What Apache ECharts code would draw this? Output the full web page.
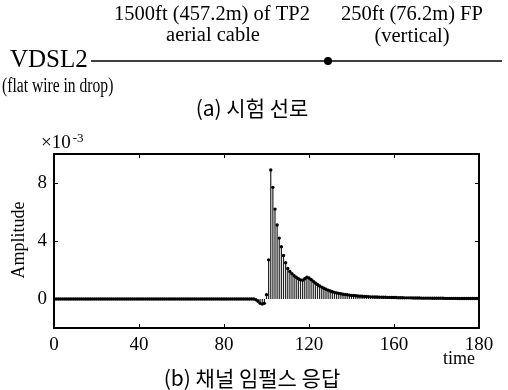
<!DOCTYPE html>
<html>
<head>
<meta charset="utf-8">
<script src="https://cdn.jsdelivr.net/npm/echarts@6/dist/echarts.min.js"></script>
<style>
html,body{margin:0;padding:0;background:#fff;}
#chart{width:508px;height:390px;}
</style>
</head>
<body>
<div id="chart"></div>
<script>
// Amplitude (x10^-3) of the channel impulse response, one value per time sample 0..200
var amplitude = [
  0,0,0,0,0,0,0,0,0,0,
  0,0,0,0,0,0,0,0,0,0,
  0,0,0,0,0,0,0,0,0,0,
  0,0,0,0,0,0,0,0,0,0,
  0,0,0,0,0,0,0,0,0,0,
  0,0,0,0,0,0,0,0,0,0,
  0,0,0,0,0,0,0,0,0,0,
  0,0,0,0,0,0,0,0,0,0,
  0,0,0,0,0,0,0,0,0,0,
  0,0,0,0,0,-0.05,-0.15,-0.3,-0.35,-0.3,
  0.3,2.7,8.9,7.7,6.2,5.1,4.2,3.6,3.0,2.5,
  2.1,1.9,1.75,1.6,1.5,1.4,1.32,1.3,1.4,1.5,
  1.45,1.35,1.22,1.1,1.0,0.9,0.82,0.74,0.67,0.61,
  0.55,0.5,0.46,0.42,0.39,0.36,0.33,0.31,0.29,0.27,
  0.25,0.24,0.22,0.21,0.2,0.19,0.18,0.17,0.16,0.15,
  0.15,0.14,0.14,0.13,0.13,0.12,0.12,0.11,0.11,0.1,
  0.1,0.1,0.09,0.09,0.09,0.08,0.08,0.08,0.08,0.07,
  0.07,0.07,0.07,0.06,0.06,0.06,0.06,0.06,0.05,0.05,
  0.05,0.05,0.05,0.05,0.04,0.04,0.04,0.04,0.04,0.04,
  0.03,0.03,0.03,0.03,0.03,0.03,0.03,0.03,0.03,0.03,
  0.03
];
var xTickValues = [0, 40, 80, 120, 160, 200];
var xTickLabels = ['0', '40', '80', '120', '160', '180'];
var yTickValues = [0, 4, 8];
var yTickLabels = ['0', '4', '8'];

var stemData = amplitude.map(function (v, i) { return [i, v]; });

var SERIF = '"Liberation Serif", "DejaVu Serif", serif';
var KR = '"Noto Sans CJK KR", sans-serif';

var chart = echarts.init(document.getElementById('chart'), null, {renderer: 'canvas'});

var tickLbl = function (v) {
  var k = xTickValues.indexOf(v);
  return k >= 0 ? xTickLabels[k] : '';
};
var yLbl = function (v) {
  var k = yTickValues.indexOf(v);
  return k >= 0 ? yTickLabels[k] : '';
};

var axisLineStyle = {color: '#000', width: 2};

chart.setOption({
  animation: false,
  backgroundColor: '#fff',
  grid: {left: 54, right: 29, top: 154, bottom: 62, containLabel: false},
  xAxis: [
    {
      type: 'value', min: 0, max: 200, interval: 40, position: 'bottom',
      axisLine: {show: true, onZero: false, lineStyle: axisLineStyle},
      axisTick: {show: true, inside: true, length: 4, lineStyle: {color: '#000'}},
      axisLabel: {show: true, margin: 8, color: '#000', fontFamily: SERIF, fontSize: 19, formatter: tickLbl},
      splitLine: {show: false}
    },
    {
      type: 'value', min: 0, max: 200, interval: 40, position: 'top',
      axisLine: {show: true, onZero: false, lineStyle: axisLineStyle},
      axisTick: {show: true, inside: true, length: 4, lineStyle: {color: '#000'}},
      axisLabel: {show: false},
      splitLine: {show: false}
    }
  ],
  yAxis: [
    {
      type: 'value', min: -2, max: 10, position: 'left',
      axisLine: {show: true, onZero: false, lineStyle: axisLineStyle},
      axisTick: {show: true, inside: true, length: 4, customValues: yTickValues, lineStyle: {color: '#000'}},
      axisLabel: {show: true, margin: 7, color: '#000', fontFamily: SERIF, fontSize: 19, customValues: yTickValues, formatter: yLbl},
      splitLine: {show: false}
    },
    {
      type: 'value', min: -2, max: 10, position: 'right',
      axisLine: {show: true, onZero: false, lineStyle: axisLineStyle},
      axisTick: {show: true, inside: true, length: 4, customValues: yTickValues, lineStyle: {color: '#000'}},
      axisLabel: {show: false},
      splitLine: {show: false}
    }
  ],
  series: [
    {
      type: 'custom',
      xAxisIndex: 0,
      yAxisIndex: 0,
      clip: true,
      data: stemData,
      renderItem: function (params, api) {
        var x = api.value(0), y = api.value(1);
        var p0 = api.coord([x, 0]);
        var p1 = api.coord([x, y]);
        return {
          type: 'group',
          children: [
            {type: 'line', shape: {x1: p0[0], y1: p0[1], x2: p1[0], y2: p1[1]},
             style: {stroke: '#222', lineWidth: 1.2}},
            {type: 'circle', shape: {cx: p1[0], cy: p1[1], r: 1.7},
             style: {fill: '#000'}}
          ]
        };
      }
    }
  ],
  graphic: [
    // (a) schematic of the test loop
    {type: 'text', x: 212, y: 15, style: {text: '1500ft (457.2m) of TP2', font: '20.5px ' + SERIF, fill: '#000', textAlign: 'center', textVerticalAlign: 'middle'}},
    {type: 'text', x: 412, y: 15, style: {text: '250ft (76.2m) FP', font: '20.5px ' + SERIF, fill: '#000', textAlign: 'center', textVerticalAlign: 'middle'}},
    {type: 'text', x: 213, y: 36, style: {text: 'aerial cable', font: '20.5px ' + SERIF, fill: '#000', textAlign: 'center', textVerticalAlign: 'middle'}},
    {type: 'text', x: 412, y: 37, style: {text: '(vertical)', font: '20.5px ' + SERIF, fill: '#000', textAlign: 'center', textVerticalAlign: 'middle'}},
    {type: 'text', x: 10, y: 60, style: {text: 'VDSL2', font: '25px ' + SERIF, fill: '#000', textAlign: 'left', textVerticalAlign: 'middle'}},
    {type: 'line', shape: {x1: 91, y1: 61, x2: 502, y2: 61}, style: {stroke: '#000', lineWidth: 1.6}},
    {type: 'circle', shape: {cx: 328, cy: 61, r: 4}, style: {fill: '#000'}},
    {type: 'text', x: 2, y: 87, scaleX: 0.78, style: {text: '(flat wire in drop)', font: '20px ' + SERIF, fill: '#000', textAlign: 'left', textVerticalAlign: 'middle'}},
    {type: 'text', x: 252, y: 108, style: {text: '(a) 시험 선로', font: '21px ' + KR, fill: '#000', textAlign: 'center', textVerticalAlign: 'middle'}},
    // (b) axis annotations
    {type: 'text', x: 41, y: 143, style: {
      text: '{a|×10}{s|-3}', textAlign: 'left', textVerticalAlign: 'middle',
      rich: {a: {font: '19px ' + SERIF, fill: '#000'}, s: {font: '13px ' + SERIF, fill: '#000', verticalAlign: 'top', padding: [0, 0, 9, 2]}}
    }},
    {type: 'text', x: 19, y: 240, rotation: Math.PI / 2, style: {text: 'Amplitude', font: '18px ' + SERIF, fill: '#000', textAlign: 'center', textVerticalAlign: 'middle'}},
    {type: 'text', x: 459, y: 359, style: {text: 'time', font: '18px ' + SERIF, fill: '#000', textAlign: 'center', textVerticalAlign: 'middle'}},
    {type: 'text', x: 252, y: 378, style: {text: '(b) 채널 임펄스 응답', font: '21px ' + KR, fill: '#000', textAlign: 'center', textVerticalAlign: 'middle'}}
  ]
});
</script>
</body>
</html>
